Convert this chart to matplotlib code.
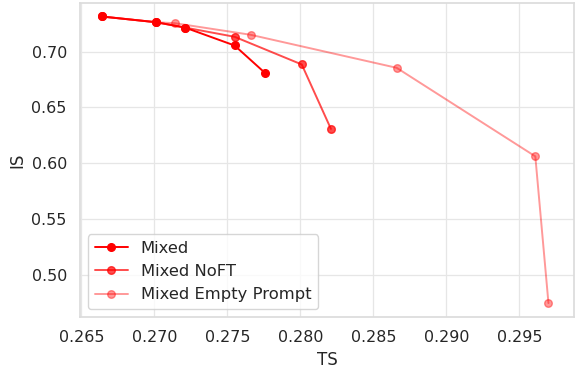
import matplotlib
matplotlib.use("Agg")
import matplotlib.pyplot as plt
import seaborn as sns

sns.set_theme(style="whitegrid")
plt.rcParams['font.family'] = ['DejaVu Sans']

# TS / IS trade-off curves
mixed_ts = [0.2664, 0.2701, 0.2721, 0.2755, 0.2776]
mixed_is = [0.7314, 0.7263, 0.7215, 0.7054, 0.6806]

noft_ts = [0.2664, 0.2701, 0.2721, 0.2755, 0.2801, 0.2821]
noft_is = [0.7314, 0.7263, 0.7215, 0.7132, 0.6884, 0.6306]

empty_ts = [0.2664, 0.2701, 0.2714, 0.2766, 0.2866, 0.2961, 0.2970]
empty_is = [0.7314, 0.7263, 0.7254, 0.7150, 0.6854, 0.6060, 0.4745]

fig = plt.figure(figsize=(5.79, 3.68), dpi=100)
ax = fig.add_axes([80 / 579, 1 - 317 / 368, 494 / 579, 314 / 368])

ax.plot(mixed_ts, mixed_is, color="red", marker="o", markersize=5.5,
        linewidth=1.4, label="Mixed")
ax.plot(noft_ts, noft_is, color="red", alpha=0.7, marker="o", markersize=5.5,
        linewidth=1.4, label="Mixed NoFT")
ax.plot(empty_ts, empty_is, color="red", alpha=0.4, marker="o", markersize=5.5,
        linewidth=1.4, label="Mixed Empty Prompt")

ax.set_xlim(0.26491, 0.29875)
ax.set_ylim(0.4620, 0.7435)
ax.set_xticks([0.265, 0.270, 0.275, 0.280, 0.285, 0.290, 0.295])
ax.set_yticks([0.50, 0.55, 0.60, 0.65, 0.70])
ax.grid(color="#e6e6e6", linewidth=0.9)
for sp in ax.spines.values():
    sp.set_color("#dcdcdc")
ax.tick_params(labelsize=11.4, colors="#262626")
ax.set_xlabel("TS", fontsize=12)
ax.set_ylabel("IS", fontsize=12)
ax.legend(loc="lower left", fontsize=11.8)

fig.savefig("out.png", dpi=100)
